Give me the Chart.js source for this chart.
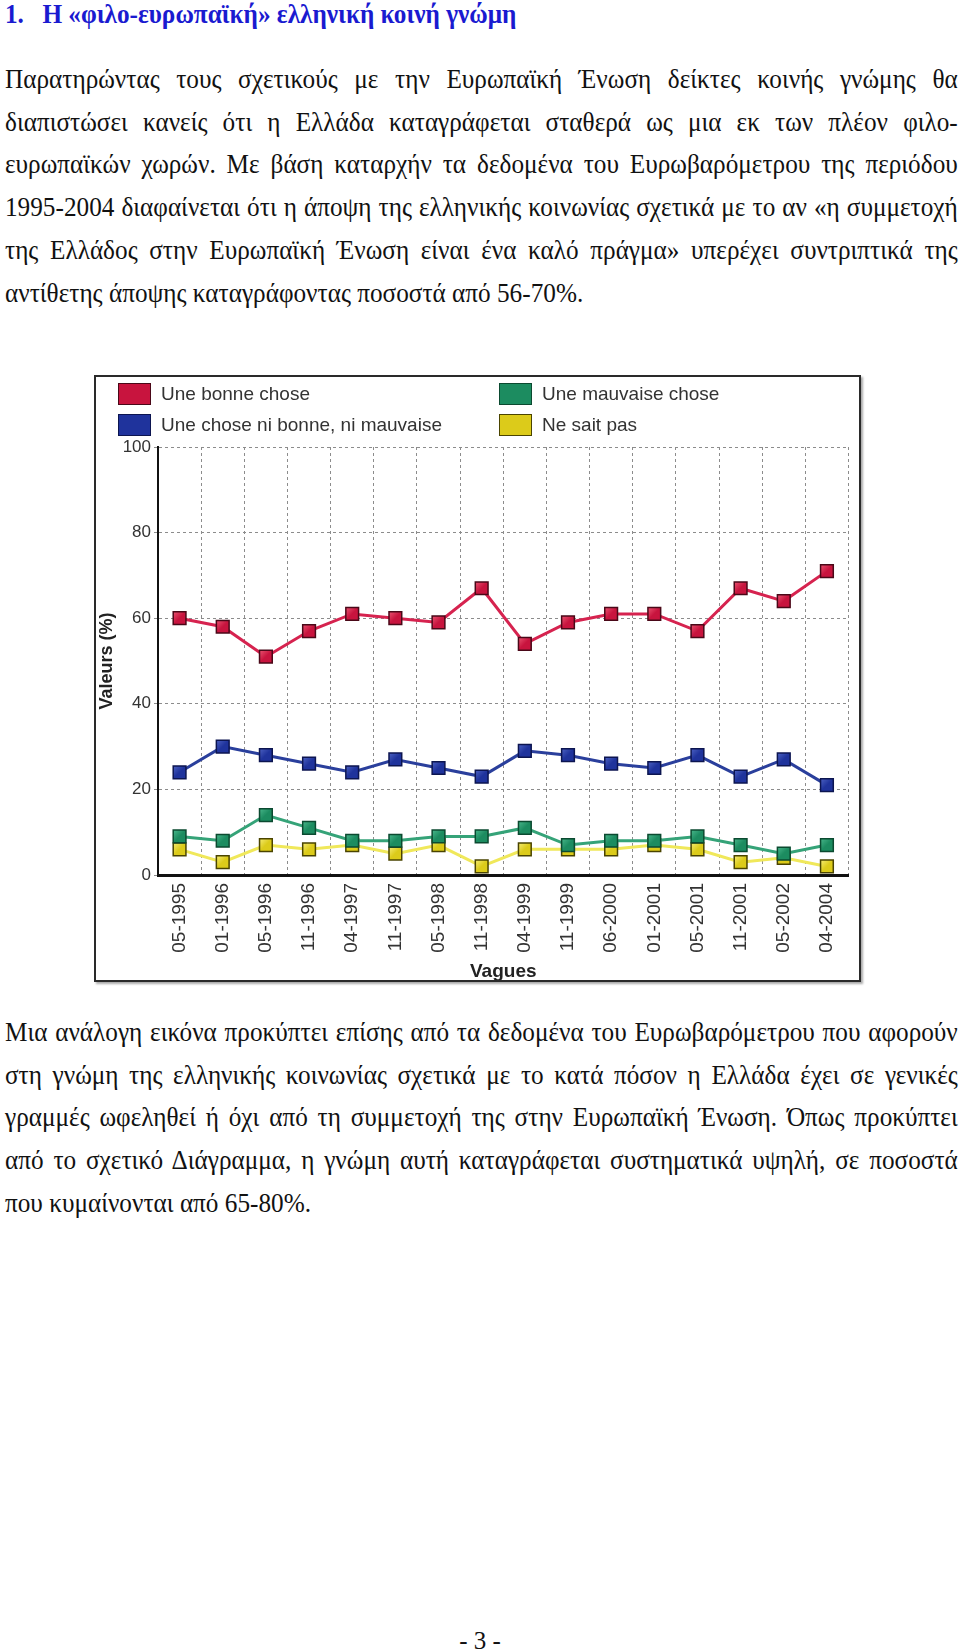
<!DOCTYPE html>
<html lang="el">
<head>
<meta charset="utf-8">
<title>Η «φιλο-ευρωπαϊκή» ελληνική κοινή γνώμη</title>
<script src="https://cdn.jsdelivr.net/npm/chart.js@4.4.1/dist/chart.umd.min.js"></script>
<style>
  html, body { margin: 0; padding: 0; background: #fff; }
  body { width: 960px; height: 1651px; position: relative; overflow: hidden; font-family: "Liberation Serif", "Times New Roman", serif; color: #111; }
  .txt { position: absolute; left: 5px; width: 1019px; transform: scaleX(0.935); transform-origin: 0 0; font-size: 27px; }
  .txt div { white-space: nowrap; text-align: justify; text-align-last: justify; line-height: 42.7px; }
  .txt div.last { text-align: left; text-align-last: left; }
  #heading { top: 0; color: #1a1ad0; font-weight: bold; line-height: 28px; }
  #heading span { display: inline-block; width: 40px; }
  #p1 { top: 58px; }
  #p2 { top: 1011px; }
  #pageno { position: absolute; top: 1627px; left: 0; width: 960px; text-align: center; font-size: 25px; }
  #frame { position: absolute; left: 94px; top: 375px; width: 767px; height: 607px; box-sizing: border-box;
           border: 2px solid #2a2a2a; box-shadow: 2px 2px 2px #aaa; background: #fff; }
  #chart { position: absolute; left: 0; top: 0; }
  #legend { position: absolute; left: 22px; top: 6px; display: grid; grid-template-columns: 381px 300px; grid-auto-rows: 31px;
            font-family: "Liberation Sans", Arial, sans-serif; font-size: 19px; color: #333; }
  #legend .item { display: flex; align-items: center; height: 22px; }
  #legend .box { width: 31px; height: 20px; border: 1px solid #333; margin-right: 10px; }
</style>
</head>
<body>

<div id="heading" class="txt"><span>1.</span>Η «φιλο-ευρωπαϊκή» ελληνική κοινή γνώμη</div>

<div id="p1" class="txt">
  <div>Παρατηρώντας τους σχετικούς με την Ευρωπαϊκή Ένωση δείκτες κοινής γνώμης θα</div>
  <div>διαπιστώσει κανείς ότι η Ελλάδα καταγράφεται σταθερά ως μια εκ των πλέον φιλο-</div>
  <div>ευρωπαϊκών χωρών. Με βάση καταρχήν τα δεδομένα του Ευρωβαρόμετρου της περιόδου</div>
  <div>1995-2004 διαφαίνεται ότι η άποψη της ελληνικής κοινωνίας σχετικά με το αν «η συμμετοχή</div>
  <div>της Ελλάδος στην Ευρωπαϊκή Ένωση είναι ένα καλό πράγμα» υπερέχει συντριπτικά της</div>
  <div class="last">αντίθετης άποψης καταγράφοντας ποσοστά από 56-70%.</div>
</div>

<div id="frame">
  <canvas id="chart" width="763" height="603"></canvas>
  <div id="legend"></div>
</div>

<div id="p2" class="txt">
  <div>Μια ανάλογη εικόνα προκύπτει επίσης από τα δεδομένα του Ευρωβαρόμετρου που αφορούν</div>
  <div>στη γνώμη της ελληνικής κοινωνίας σχετικά με το κατά πόσον η Ελλάδα έχει σε γενικές</div>
  <div>γραμμές ωφεληθεί ή όχι από τη συμμετοχή της στην Ευρωπαϊκή Ένωση. Όπως προκύπτει</div>
  <div>από το σχετικό Διάγραμμα, η γνώμη αυτή καταγράφεται συστηματικά υψηλή, σε ποσοστά</div>
  <div class="last">που κυμαίνονται από 65-80%.</div>
</div>

<div id="pageno">- 3 -</div>

<script>
// vagues de l'Eurobaromètre (axe x)
const waves = ['05-1995', '01-1996', '05-1996', '11-1996', '04-1997', '11-1997', '05-1998', '11-1998',
               '04-1999', '11-1999', '06-2000', '01-2001', '05-2001', '11-2001', '05-2002', '04-2004'];

// valeurs en %
const bonneChose    = [60, 58, 51, 57, 61, 60, 59, 67, 54, 59, 61, 61, 57, 67, 64, 71];
const niBonneNiMauv = [24, 30, 28, 26, 24, 27, 25, 23, 29, 28, 26, 25, 28, 23, 27, 21];
const mauvaiseChose = [9, 8, 14, 11, 8, 8, 9, 9, 11, 7, 8, 8, 9, 7, 5, 7];
const neSaitPas     = [6, 3, 7, 6, 7, 5, 7, 2, 6, 6, 6, 7, 6, 3, 4, 2];

const yTicks = [0, 20, 40, 60, 80, 100];

const seriesLabels = ['Une bonne chose', 'Une chose ni bonne, ni mauvaise', 'Une mauvaise chose', 'Ne sait pas'];
// ordre dans la légende (2 colonnes)
const legendOrder = [0, 2, 1, 3];

// lignes trop longues : on resserre les espaces pour ne pas déborder
document.querySelectorAll('.txt div').forEach(d => {
    const r = document.createRange();
    r.selectNodeContents(d);
    const natural = r.getBoundingClientRect().width;
    const box = d.getBoundingClientRect().width;
    if (natural > box + 0.5) {
        const spaces = (d.textContent.trim().match(/ /g) || []).length || 1;
        d.style.wordSpacing = (-(natural - box) / 0.935 / spaces - 0.2) + 'px';
    }
});

// petit dégradé pour donner du relief aux carrés
function shaded(base, light) {
    return (ctx) => {
        const chart = ctx.chart;
        if (ctx.type !== 'data' || !chart.scales.x || !chart.scales.y) return base;
        const x = chart.scales.x.getPixelForValue(ctx.dataIndex);
        const y = chart.scales.y.getPixelForValue(ctx.raw);
        if (!isFinite(x) || !isFinite(y)) return base;
        const g = chart.ctx.createLinearGradient(x - 6, y - 6, x + 6, y + 6);
        g.addColorStop(0, light);
        g.addColorStop(0.5, base);
        g.addColorStop(1, base);
        return g;
    };
}

function serie(label, data, line, fill, light, edge) {
    return {
        label: label,
        data: data,
        borderColor: line,
        backgroundColor: fill,
        borderWidth: 3,
        pointStyle: 'rect',
        pointRadius: 9,
        pointHoverRadius: 9,
        pointBackgroundColor: shaded(fill, light),
        pointBorderColor: edge,
        pointBorderWidth: 1.5,
        tension: 0,
        legendFill: fill
    };
}

const datasets = [
    serie(seriesLabels[0], bonneChose, '#d6234f', '#c8143e', '#e8506e', '#4a0818'),
    serie(seriesLabels[1], niBonneNiMauv, '#2a3f9c', '#1f339c', '#4a5fc0', '#0c1550'),
    serie(seriesLabels[2], mauvaiseChose, '#35a378', '#1c8c60', '#46b488', '#0b4a30'),
    serie(seriesLabels[3], neSaitPas, '#f0e85a', '#dccb1a', '#f4ea70', '#4a4400')
];

const tickFont = { family: '"Liberation Sans", Arial, sans-serif', size: 16 };
const titleFont = { family: '"Liberation Sans", Arial, sans-serif', size: 18, weight: 'bold' };

const chart = new Chart(document.getElementById('chart').getContext('2d'), {
    type: 'line',
    data: { labels: waves, datasets: datasets },
    options: {
        responsive: false,
        animation: false,
        layout: { padding: { top: 70, right: 1, left: 0, bottom: 0 } },
        plugins: { legend: { display: false }, tooltip: { enabled: false } },
        scales: {
            x: {
                offset: true,
                grid: { offset: true, color: '#8c8c8c', lineWidth: 1, drawTicks: false },
                border: { color: '#111', width: 3, dash: [3, 3] },
                ticks: { font: Object.assign({}, tickFont, { size: 19 }), color: '#333', maxRotation: 90, minRotation: 90, padding: 8, autoSkip: false },
                title: { display: true, text: 'Vagues', font: Object.assign({}, titleFont, { size: 19 }), color: '#222', padding: { top: 0, bottom: -3 } },
                afterFit: (s) => { s.height = 105; }
            },
            y: {
                min: yTicks[0],
                max: yTicks[yTicks.length - 1],
                grid: { color: '#8c8c8c', lineWidth: 1, tickLength: 4 },
                border: { color: '#111', width: 2, dash: [3, 3] },
                ticks: { font: Object.assign({}, tickFont, { size: 17 }), color: '#333', stepSize: yTicks[1] - yTicks[0], padding: 3 },
                title: { display: true, text: 'Valeurs (%)', font: titleFont, color: '#222', padding: { top: 0, bottom: 4 } },
                afterFit: (s) => { s.width = 62; }
            }
        }
    }
});

// légende en HTML, deux colonnes comme l'original
const legend = document.getElementById('legend');
legendOrder.forEach(i => {
    const ds = chart.data.datasets[i];
    const item = document.createElement('div');
    item.className = 'item';
    const box = document.createElement('span');
    box.className = 'box';
    box.style.background = ds.legendFill;
    box.style.borderColor = ds.pointBorderColor;
    item.appendChild(box);
    item.appendChild(document.createTextNode(ds.label));
    legend.appendChild(item);
});
</script>
</body>
</html>
